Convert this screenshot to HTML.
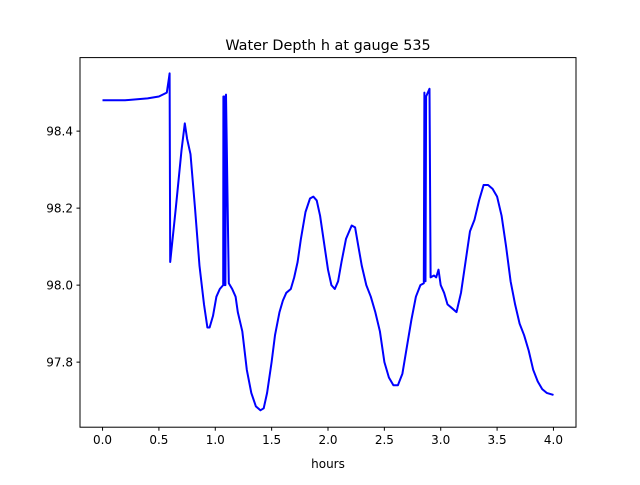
<!DOCTYPE html>
<html><head><meta charset="utf-8"><style>
body{margin:0;background:#fff}
svg text{font-family:"DejaVu Sans","Liberation Sans",sans-serif;fill:#000}
</style></head><body>
<svg id="chart" width="640" height="480" xmlns="http://www.w3.org/2000/svg">
<rect width="640" height="480" fill="#fff"/>
<text x="328" y="50" font-size="14.4" text-anchor="middle">Water Depth h at gauge 535</text>
<text x="328" y="468" font-size="12" text-anchor="middle">hours</text>
<g id="ticks"></g>
<path id="line" fill="none" stroke="#0000ff" stroke-width="2" stroke-linejoin="round"/>
<rect x="80" y="57.6" width="496" height="369.6" fill="none" stroke="#000" stroke-width="1"/>
</svg>
<script>
const times=[0,0.2,0.4,0.5,0.57,0.59,0.595,0.6,0.65,0.7,0.73,0.75,0.78,0.82,0.86,0.9,0.93,0.95,0.98,1.01,1.04,1.07,1.072,1.08,1.083,1.09,1.095,1.12,1.15,1.18,1.2,1.24,1.28,1.32,1.36,1.4,1.43,1.46,1.5,1.53,1.57,1.6,1.63,1.67,1.7,1.73,1.76,1.8,1.84,1.87,1.9,1.93,1.97,2.0,2.03,2.06,2.09,2.12,2.16,2.21,2.24,2.27,2.3,2.34,2.38,2.42,2.46,2.5,2.54,2.58,2.62,2.66,2.7,2.74,2.78,2.82,2.85,2.855,2.86,2.865,2.87,2.9,2.91,2.94,2.96,2.98,3.0,3.03,3.06,3.1,3.14,3.18,3.22,3.26,3.3,3.34,3.38,3.42,3.46,3.5,3.54,3.58,3.62,3.66,3.7,3.74,3.78,3.82,3.86,3.9,3.94,4.0];
const depths=[98.48,98.48,98.485,98.49,98.5,98.54,98.55,98.06,98.2,98.35,98.42,98.38,98.34,98.2,98.05,97.95,97.89,97.89,97.92,97.97,97.99,98.0,98.49,98.49,98.0,98.0,98.495,98.005,97.99,97.97,97.93,97.88,97.78,97.72,97.685,97.675,97.68,97.72,97.8,97.87,97.93,97.96,97.98,97.99,98.02,98.06,98.12,98.19,98.225,98.23,98.22,98.18,98.1,98.04,98.0,97.99,98.01,98.06,98.12,98.155,98.15,98.1,98.05,98.0,97.97,97.93,97.88,97.8,97.76,97.74,97.74,97.77,97.84,97.91,97.97,98.0,98.005,98.5,98.01,98.01,98.49,98.51,98.02,98.025,98.02,98.04,98.0,97.98,97.95,97.94,97.93,97.98,98.06,98.14,98.17,98.22,98.26,98.26,98.25,98.23,98.18,98.1,98.01,97.95,97.9,97.87,97.83,97.78,97.75,97.73,97.72,97.715];
const xTicks=[0,0.5,1,1.5,2,2.5,3,3.5,4];
const xTickLabels=["0.0","0.5","1.0","1.5","2.0","2.5","3.0","3.5","4.0"];
const yTicks=[97.8,98.0,98.2,98.4];
const yTickLabels=["97.8","98.0","98.2","98.4"];
const L=80,R=576,T=57.6,B=427.2,x0=-0.2,x1=4.2,y0=97.631,y1=98.591;
const sx=v=>L+(v-x0)/(x1-x0)*(R-L);
const sy=v=>B-(v-y0)/(y1-y0)*(B-T);
const NS="http://www.w3.org/2000/svg";
const g=document.getElementById('ticks');
function mk(tag,attrs){const e=document.createElementNS(NS,tag);for(const k in attrs)e.setAttribute(k,attrs[k]);g.appendChild(e);return e;}
xTicks.forEach((t,i)=>{const x=sx(t);
const l=mk('line',{x1:x,x2:x,y1:B,y2:B+3.5,stroke:'#000'});


const tx=mk('text',{x:x,y:B+17,'font-size':12,'text-anchor':'middle'});tx.textContent=xTickLabels[i];

});
yTicks.forEach((t,i)=>{const y=sy(t);
const l=mk('line',{x1:L-3.5,x2:L,y1:y,y2:y,stroke:'#000'});


const tx=mk('text',{x:L-7,y:y+4.5,'font-size':12,'text-anchor':'end'});tx.textContent=yTickLabels[i];

});
document.getElementById('line').setAttribute('d',times.map((t,i)=>(i?'L':'M')+sx(t).toFixed(1)+','+sy(depths[i]).toFixed(1)).join(''));
</script>
</body></html>
